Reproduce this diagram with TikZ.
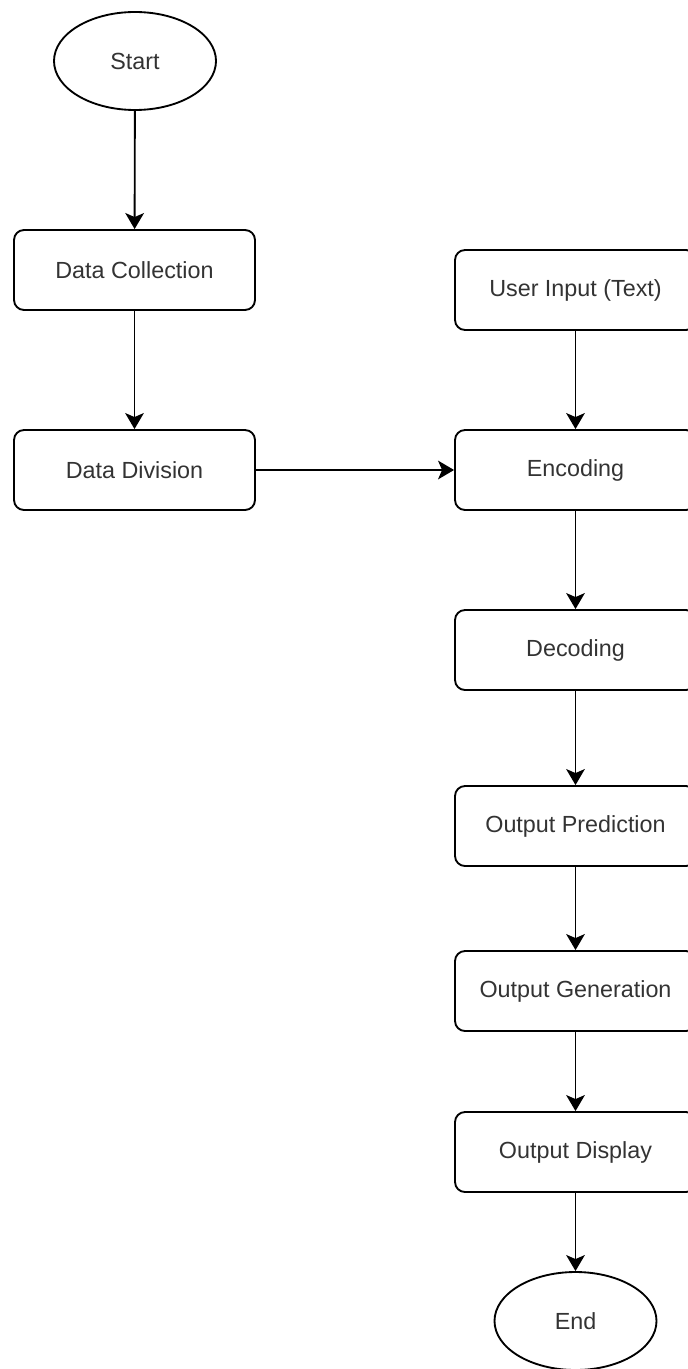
\documentclass[tikz,border=0pt]{standalone}
\usepackage{fontspec}
\setmainfont{Liberation Sans}
\usetikzlibrary{shapes.geometric,arrows.meta}

\tikzset{
	stepbox/.style={draw, line width=1.4pt, rounded corners=7.5pt, minimum width=180.75pt, minimum height=60pt, inner sep=0pt, text=black!80, font=\fontsize{17.5}{21}\selectfont},
	termnode/.style={draw, ellipse, line width=1.4pt, minimum width=121.5pt, minimum height=73.5pt, inner sep=0pt, text=black!80, font=\fontsize{17.5}{21}\selectfont},
	flow/.style={line width=1.4pt, -{Stealth[length=12pt, width=14pt, inset=3pt]}}
}

\begin{document}
\begin{tikzpicture}[x=0.75pt,y=0.75pt,yscale=-1,xscale=1]
	%set diagram area: 688 x 1369
	\useasboundingbox (0,0) rectangle (688,1369);
	\clip (0,0) rectangle (688,1369);
	
	%Shape: Ellipse [start]
	\node [termnode] (start) at (135,61) {Start};
	%Shape: Rounded Rect [left column]
	\node [stepbox] (dcoll) at (134.5,270) {Data Collection};
	\node [stepbox] (ddiv) at (134.5,470) {Data Division};
	
	%Shape: Rounded Rect [right column]
	\node [stepbox] (uinput) at (575.5,290) {User Input (Text)};
	\node [stepbox] (enc) at (575.5,470) {Encoding};
	\node [stepbox] (dec) at (575.5,650) {Decoding};
	\node [stepbox] (pred) at (575.5,826) {Output Prediction};
	\node [stepbox] (gen) at (575.5,991) {Output Generation};
	\node [stepbox] (disp) at (575.5,1152) {Output Display};
	%Shape: Ellipse [end]
	\node [termnode] (stop) at (575.5,1321) {End};
	
	%Straight Lines
	\draw [flow] (start) -- (dcoll);
	\draw [flow] (dcoll) -- (ddiv);
	\draw [flow] (ddiv) -- (enc);
	\draw [flow] (uinput) -- (enc);
	\draw [flow] (enc) -- (dec);
	\draw [flow] (dec) -- (pred);
	\draw [flow] (pred) -- (gen);
	\draw [flow] (gen) -- (disp);
	\draw [flow] (disp) -- (stop);
	
\end{tikzpicture}
\end{document}
